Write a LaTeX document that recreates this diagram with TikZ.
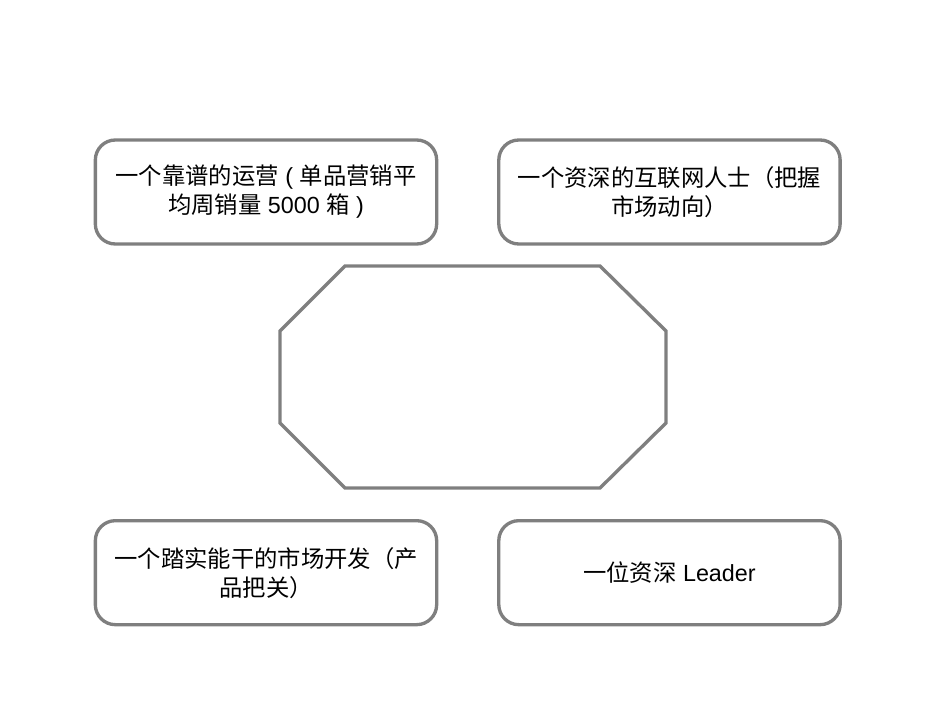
\documentclass[tikz,border=0pt]{standalone}
\usepackage{fontspec}
\setmainfont{Liberation Sans}
\newfontfamily\cjk{Noto Sans CJK SC}
\usetikzlibrary{positioning}
\definecolor{framegray}{HTML}{7F7F7F}
\tikzset{
    role/.style = {draw=framegray, line width=2.5pt, rectangle,
        rounded corners=15pt,
        minimum width=256pt, minimum height=78pt, align=center,
        font=\fontsize{17.5}{21.75}\selectfont},
    core/.style = {draw=framegray, line width=2.5pt, line join=miter}
}

\begin{document}
\begin{tikzpicture}[x=0.75pt, y=-0.75pt, node distance=4cm]
            \useasboundingbox (0,0) rectangle (950,713);
            \node [role] (ops) at (266,192) {{\cjk 一个靠谱的运营} ( {\cjk 单品营销平}\\{\cjk 均周销量} 5000 {\cjk 箱} )};
            \node [role,right of=ops, node distance=302.6pt] (web) {{\cjk 一个资深的互联网人士（把握}\\{\cjk 市场动向）}};
            \node [role,below of=ops, node distance=285.5pt] (biz) {{\cjk 一个踏实能干的市场开发（产}\\{\cjk 品把关）}};
            \node [role,right of=biz, node distance=302.6pt] (lead) {{\cjk 一位资深} Leader};
            % empty octagon in the middle
            \draw [core] (345,266) -- (600,266) -- (666,331) -- (666,423) -- (600,488) -- (345,488) -- (280,423) -- (280,331) -- cycle;
        \end{tikzpicture}
\end{document}
